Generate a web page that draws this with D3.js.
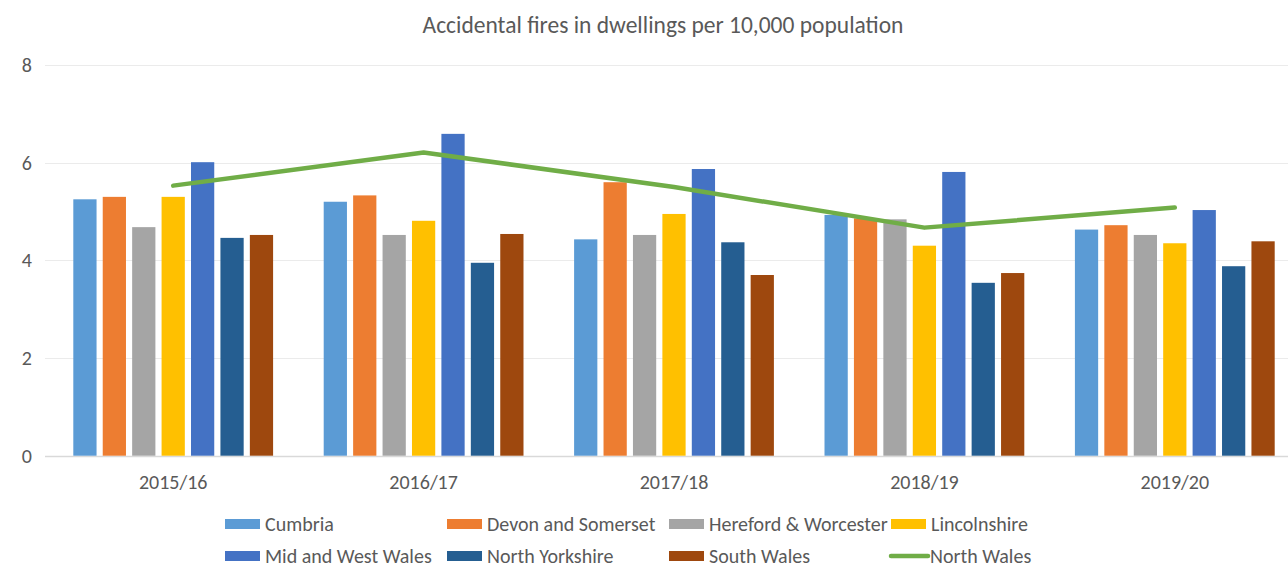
<!DOCTYPE html>
<html>
<head>
<meta charset="utf-8">
<script src="https://cdn.jsdelivr.net/npm/d3@7"></script>
<style>
  body { margin: 0; background: #fff; }
  #chart text { fill: #595959; }
</style>
</head>
<body>
<div id="chart"></div>
<script>
    // data
    var years = ["2015/16", "2016/17", "2017/18", "2018/19", "2019/20"];
    var barNames = ["Cumbria", "Devon and Somerset", "Hereford & Worcester", "Lincolnshire",
      "Mid and West Wales", "North Yorkshire", "South Wales"];
    var cumbria = [5.25, 5.20, 4.43, 4.93, 4.63];
    var devon = [5.30, 5.33, 5.60, 4.86, 4.72];
    var hereford = [4.68, 4.52, 4.52, 4.84, 4.52];
    var lincolnshire = [5.30, 4.81, 4.95, 4.30, 4.35];
    var midWestWales = [6.01, 6.59, 5.87, 5.81, 5.03];
    var northYorkshire = [4.46, 3.95, 4.37, 3.54, 3.88];
    var southWales = [4.52, 4.54, 3.70, 3.74, 4.39];
    var northWales = [5.53, 6.21, 5.50, 4.67, 5.08];
    var yTicks = [0, 2, 4, 6, 8];

    var barValues = [cumbria, devon, hereford, lincolnshire, midWestWales, northYorkshire, southWales];
    var barColors = ["#5B9BD5", "#ED7D31", "#A5A5A5", "#FFC000", "#4472C4", "#255E91", "#9E480E"];
    var lineColor = "#70AD47";

    var width = 1288, height = 568;
    var font = "Carlito, Calibri, 'Open Sans', sans-serif";

    const svg = d3
      .select("#chart")
      .append("svg")
      .attr("width", width)
      .attr("height", height)
      .attr("font-family", font);

    // scales - the plot runs a bit past the right edge (cropped)
    var x0 = d3.scaleBand().domain(years).range([48, 1300]).padding(0);
    var x1 = d3.scaleBand()
      .domain(barNames)
      .range([0, x0.bandwidth()])
      .paddingInner(0.21)
      .paddingOuter(0.86);
    var y = d3.scaleLinear().domain([0, 8]).range([455.7, 65]);

    //gridlines
    svg.append("g")
      .selectAll("line")
      .data(yTicks)
      .enter()
      .append("line")
      .attr("x1", 45)
      .attr("x2", width)
      .attr("y1", d => Math.round(y(d)) + 0.5)
      .attr("y2", d => Math.round(y(d)) + 0.5)
      .attr("stroke", d => d == 0 ? "#D9D9D9" : "#EBEBEB")
      .attr("stroke-width", d => d == 0 ? 1.5 : 1.2);

    // y axis labels
    var yAxis = d3.axisLeft(y).tickValues(yTicks).tickSize(0).tickPadding(0);
    svg.append("g")
      .attr("transform", "translate(32,0)")
      .call(yAxis)
      .call(g => g.select(".domain").remove())
      .selectAll("text")
      .attr("font-size", 20)
      .attr("font-family", font)
      .style("fill", "#595959");

    // bars
    var groups = svg.append("g")
      .selectAll("g")
      .data(years)
      .enter()
      .append("g")
      .attr("transform", d => `translate(${x0(d)},0)`);

    groups.selectAll("rect")
      .data((d, i) => barNames.map((name, k) => ({ name: name, value: barValues[k][i], color: barColors[k] })))
      .enter()
      .append("rect")
      .attr("x", d => x1(d.name))
      .attr("width", x1.bandwidth())
      .attr("y", d => y(d.value))
      .attr("height", d => y(0) - y(d.value))
      .attr("fill", d => d.color);

    // x axis labels
    var xAxis = d3.axisBottom(x0).tickSize(0).tickPadding(0);
    svg.append("g")
      .attr("transform", "translate(0,475)")
      .call(xAxis)
      .call(g => g.select(".domain").remove())
      .selectAll("text")
      .attr("font-size", 20)
      .attr("font-family", font)
      .style("fill", "#595959");

    // North Wales line
    var line = d3.line()
      .x((d, i) => x0(years[i]) + x0.bandwidth() / 2)
      .y(d => y(d));

    svg.append("path")
      .datum(northWales)
      .attr("d", line)
      .attr("fill", "none")
      .attr("stroke", lineColor)
      .attr("stroke-width", 4.5)
      .attr("stroke-linecap", "round")
      .attr("stroke-linejoin", "round");

    //title
    svg.append("text")
      .attr("x", 663)
      .attr("y", 33)
      .attr("text-anchor", "middle")
      .attr("font-size", 23.5)
      .text("Accidental fires in dwellings per 10,000 population");

    //legend - 4 columns, 2 rows (second row kept inside the bottom edge)
    var legendItems = barNames.map((name, k) => ({ name: name, color: barColors[k], type: "bar" }));
    legendItems.push({ name: "North Wales", color: lineColor, type: "line" });
    var colX = [225, 447, 669, 891];
    var rowY = [524, 556];

    var legend = svg.append("g")
      .selectAll("g")
      .data(legendItems)
      .enter()
      .append("g")
      .attr("transform", (d, i) => `translate(${colX[i % 4]},${rowY[Math.floor(i / 4)]})`);

    legend.filter(d => d.type == "bar")
      .append("rect")
      .attr("x", 0)
      .attr("y", -5)
      .attr("width", 35)
      .attr("height", 10)
      .attr("fill", d => d.color);

    legend.filter(d => d.type == "line")
      .append("line")
      .attr("x1", 0)
      .attr("x2", 37)
      .attr("stroke", d => d.color)
      .attr("stroke-width", 4.5)
      .attr("stroke-linecap", "round");

    legend.append("text")
      .attr("x", d => d.type == "line" ? 39 : 40)
      .attr("dy", "0.33em")
      .attr("font-size", 20)
      .text(d => d.name);
</script>
</body>
</html>
